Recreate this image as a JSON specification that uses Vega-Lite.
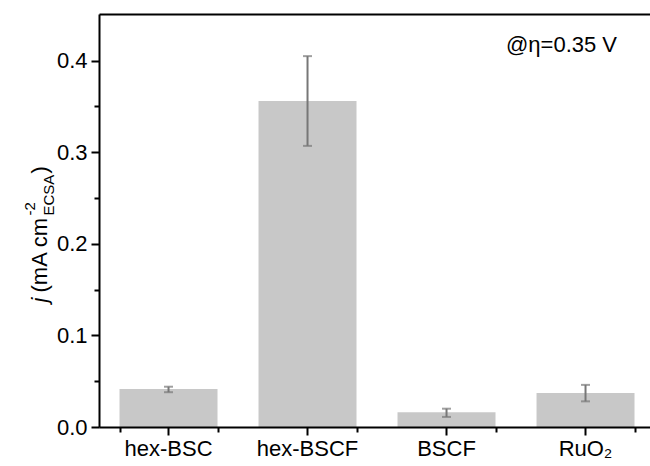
{
  "$schema": "https://vega.github.io/schema/vega-lite/v6.json",
  "width": 551,
  "height": 413,
  "autosize": {"type": "none"},
  "padding": {"left": 99, "top": 14, "right": 0, "bottom": 39},
  "config": {
    "font": "Liberation Sans",
    "view": {"stroke": null},
    "axis": {"labelColor": "black", "titleColor": "black", "domainColor": "black", "tickColor": "black", "grid": false, "titleFontWeight": "normal"}
  },
  "data": {"values": [
    {"material": "hex-BSC", "value": 0.0415, "lo": 0.038, "hi": 0.044},
    {"material": "hex-BSCF", "value": 0.356, "lo": 0.307, "hi": 0.405},
    {"material": "BSCF", "value": 0.016, "lo": 0.011, "hi": 0.020},
    {"material": "RuO₂", "value": 0.037, "lo": 0.028, "hi": 0.046}
  ]},
  "resolve": {"axis": {"x": "independent", "y": "independent"}},
  "layer": [
    {
      "mark": {"type": "bar", "color": "#c8c8c8"},
      "encoding": {
        "x": {"field": "material", "type": "nominal", "sort": null,
          "scale": {"type": "band", "domain": ["hex-BSC", "hex-BSCF", "BSCF", "RuO₂"], "paddingInner": 0.295, "paddingOuter": 0.1295, "align": 0.57},
          "axis": {"orient": "bottom", "title": null, "labelAngle": 0, "labelFontSize": 22, "labelPadding": 3, "tickSize": 8, "tickWidth": 2, "domainWidth": 2, "zindex": 1}},
        "y": {"field": "value", "type": "quantitative",
          "scale": {"domain": [0, 0.451], "nice": false, "zero": true},
          "axis": {"orient": "left", "values": [0, 0.05, 0.1, 0.15, 0.2, 0.25, 0.3, 0.35, 0.4],
            "labelExpr": "round(datum.value*20) % 2 == 0 ? format(datum.value, '.1f') : ''",
            "tickSize": {"condition": {"test": "round(datum.value*20) % 2 == 0", "value": 8}, "value": 5},
            "tickWidth": 2, "domainWidth": 2, "labelFontSize": 22, "labelPadding": 4, "zindex": 1,
            "title": ")", "titleAngle": -90, "titleX": -53, "titleY": 159, "titleAlign": "left", "titleBaseline": "alphabetic", "titleFontSize": 22}}
      }
    },
    {
      "mark": {"type": "rule", "color": "#777777", "strokeWidth": 2},
      "encoding": {
        "x": {"field": "material", "type": "nominal", "sort": null,
          "scale": {"type": "band", "domain": ["hex-BSC", "hex-BSCF", "BSCF", "RuO₂"], "paddingInner": 0.295, "paddingOuter": 0.1295, "align": 0.57},
          "axis": {"orient": "bottom", "title": null, "tickBand": "extent", "labels": false, "domain": false, "tickSize": 5, "tickWidth": 2, "zindex": 1}},
        "y": {"field": "lo", "type": "quantitative",
          "scale": {"domain": [0, 0.451], "nice": false, "zero": true},
          "axis": {"orient": "left", "domain": false, "ticks": false, "labels": false,
            "title": "j", "titleFontStyle": "italic", "titleAngle": -90, "titleX": -53, "titleY": 288, "titleAlign": "left", "titleBaseline": "alphabetic", "titleFontSize": 22}},
        "y2": {"field": "hi"}
      }
    },
    {
      "mark": {"type": "tick", "color": "#777777", "thickness": 2, "size": 9},
      "encoding": {
        "x": {"field": "material", "type": "nominal", "sort": null,
          "scale": {"type": "band", "domain": ["hex-BSC", "hex-BSCF", "BSCF", "RuO₂"], "paddingInner": 0.295, "paddingOuter": 0.1295, "align": 0.57},
          "axis": {"orient": "top", "title": null, "ticks": false, "labels": false, "domainWidth": 2}},
        "y": {"field": "hi", "type": "quantitative",
          "scale": {"domain": [0, 0.451], "nice": false, "zero": true},
          "axis": {"orient": "left", "domain": false, "ticks": false, "labels": false,
            "title": "(mA cm", "titleAngle": -90, "titleX": -53, "titleY": 278, "titleAlign": "left", "titleBaseline": "alphabetic", "titleFontSize": 22}}
      }
    },
    {
      "mark": {"type": "tick", "color": "#777777", "thickness": 2, "size": 9},
      "encoding": {
        "x": {"field": "material", "type": "nominal", "sort": null,
          "scale": {"type": "band", "domain": ["hex-BSC", "hex-BSCF", "BSCF", "RuO₂"], "paddingInner": 0.295, "paddingOuter": 0.1295, "align": 0.57},
          "axis": null},
        "y": {"field": "lo", "type": "quantitative",
          "scale": {"domain": [0, 0.451], "nice": false, "zero": true},
          "axis": {"orient": "left", "domain": false, "ticks": false, "labels": false,
            "title": "-2", "titleAngle": -90, "titleX": -65, "titleY": 201, "titleAlign": "left", "titleBaseline": "alphabetic", "titleFontSize": 15}}
      }
    },
    {
      "data": {"values": [{"note": "@η=0.35 V"}]},
      "mark": {"type": "text", "fontSize": 22, "dx": -24, "align": "center", "baseline": "middle", "color": "black"},
      "encoding": {
        "text": {"field": "note"},
        "x": {"datum": "RuO₂", "type": "nominal",
          "scale": {"type": "band", "domain": ["hex-BSC", "hex-BSCF", "BSCF", "RuO₂"], "paddingInner": 0.295, "paddingOuter": 0.1295, "align": 0.57},
          "axis": null},
        "y": {"datum": 0.417, "type": "quantitative",
          "scale": {"domain": [0, 0.451], "nice": false, "zero": true},
          "axis": {"orient": "left", "domain": false, "ticks": false, "labels": false,
            "title": "ECSA", "titleAngle": -90, "titleX": -46, "titleY": 201, "titleAlign": "left", "titleBaseline": "alphabetic", "titleFontSize": 15}}
      }
    }
  ]
}
